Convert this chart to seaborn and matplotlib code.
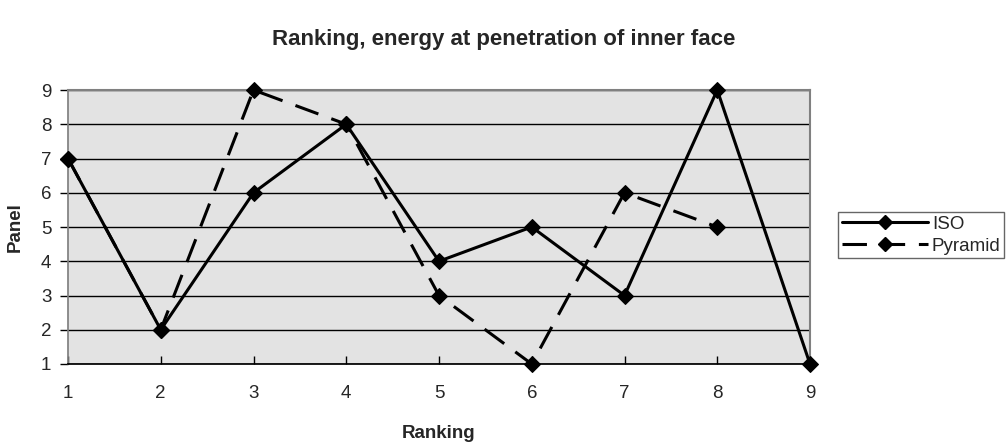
import matplotlib
matplotlib.use("Agg")
import matplotlib.pyplot as plt
import seaborn as sns
import pandas as pd
from matplotlib.lines import Line2D

ranking_iso = [1, 2, 3, 4, 5, 6, 7, 8, 9]
panel_iso = [7, 2, 6, 8, 4, 5, 3, 9, 1]
ranking_pyr = [1, 2, 3, 4, 5, 6, 7, 8]
panel_pyr = [7, 2, 9, 8, 3, 1, 6, 5]
x_ticks = [1, 2, 3, 4, 5, 6, 7, 8, 9]
y_ticks = [1, 2, 3, 4, 5, 6, 7, 8, 9]

sns.set_theme(style="white")
plt.rcParams['font.family'] = ['Liberation Sans', 'DejaVu Sans']

df = pd.concat([
    pd.DataFrame({"Ranking": ranking_iso, "Panel": panel_iso, "Series": "ISO"}),
    pd.DataFrame({"Ranking": ranking_pyr, "Panel": panel_pyr, "Series": "Pyramid"}),
])

DASH = (8, 4.5)
LW = 2.2
MS = 8

fig = plt.figure(figsize=(10.08, 4.44), dpi=100)
ax = fig.add_axes([68/1008, 1-364/444, (810-68)/1008, (364-90)/444])
ax.set_facecolor('#E3E3E3')

sns.lineplot(data=df, x="Ranking", y="Panel", style="Series", dashes={"ISO": "", "Pyramid": DASH},
             markers={"ISO": "D", "Pyramid": "D"}, color='black', linewidth=LW,
             markersize=MS, markeredgecolor='black', ax=ax, legend=False, zorder=3, clip_on=False)

ax.set_xlim(1, 9)
ax.set_ylim(1, 9)
ax.set_xticks(x_ticks)
ax.set_yticks(y_ticks)
ax.grid(axis='y', color='black', linewidth=1)
ax.grid(axis='x', visible=False)
ax.set_axisbelow(True)
for s in ['top', 'right']:
    ax.spines[s].set_color('#808080')
    ax.spines[s].set_linewidth(1.5)
ax.spines['left'].set_color('#808080')
ax.spines['bottom'].set_color('black')
ax.tick_params(axis='y', direction='out', length=6, width=1, color='black', labelsize=13.5, pad=6, left=True)
ax.tick_params(axis='x', direction='in', length=6, width=1, color='black', labelsize=13.5, pad=15, bottom=True)
ax.set_xlabel("Ranking", fontsize=13.5, fontweight='bold', labelpad=17)
ax.set_ylabel("Panel", fontsize=13.5, fontweight='bold', labelpad=12)
fig.suptitle("Ranking, energy at penetration of inner face", fontsize=16, fontweight='bold', y=1-40/444, va='center')

handles = [Line2D([], [], color='black', lw=LW, marker='D', markersize=MS - 1),
           Line2D([], [], color='black', lw=LW, linestyle=(0, DASH), marker='D', markersize=MS - 1)]
leg = fig.legend(handles, ["ISO", "Pyramid"], loc='upper left', bbox_to_anchor=(838/1008, 1-212/444),
                 frameon=True, fancybox=False, fontsize=13.5, handlelength=4.6, handletextpad=0.2,
                 borderpad=0.2, labelspacing=0.25, borderaxespad=0)
leg.get_frame().set_edgecolor('#404040')
leg.get_frame().set_linewidth(1)

fig.savefig("out.png", dpi=100)
